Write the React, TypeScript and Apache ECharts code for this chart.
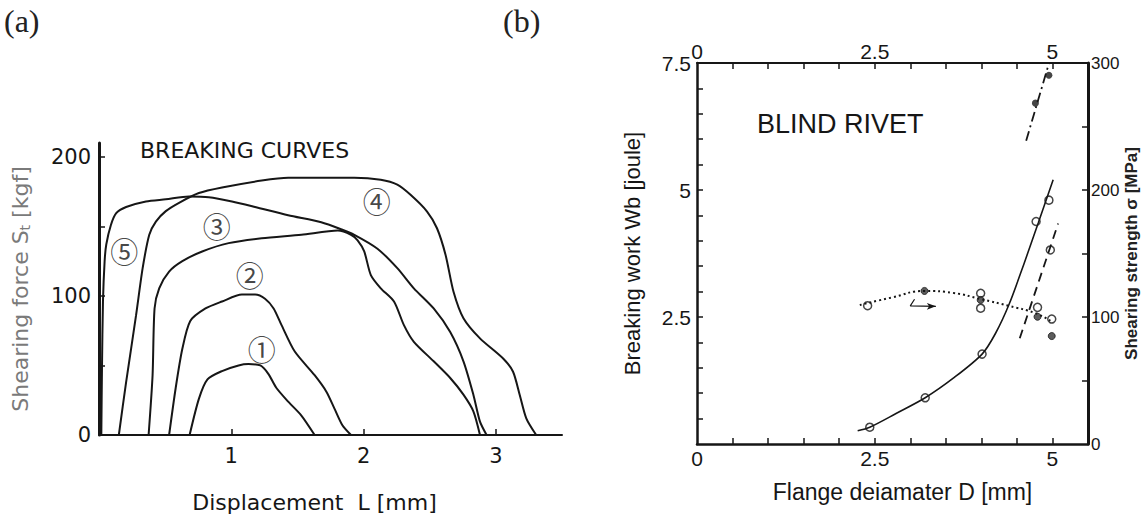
import React, { useEffect, useRef } from "react";
import * as echarts from "echarts";

// ---------- Panel (a): breaking curves (Displacement mm, Shearing force kgf)
const curve1: number[][] = [
  [0.685, 0], [0.755, 26], [0.82, 40], [0.93, 46], [1.055, 50], [1.13, 51], [1.22, 50],
  [1.28, 44], [1.34, 34], [1.43, 24], [1.53, 14], [1.63, 0],
];
const curve2: number[][] = [
  [0.53, 0], [0.58, 34], [0.63, 62], [0.69, 82], [0.805, 91], [0.93, 96], [1.08, 101],
  [1.18, 101], [1.255, 98], [1.32, 91], [1.38, 79], [1.48, 60], [1.63, 43], [1.72, 31],
  [1.78, 19], [1.84, 7], [1.905, 0],
];
const curve3: number[][] = [
  [0.375, 0], [0.405, 43], [0.42, 91], [0.455, 105.5], [0.53, 117.5], [0.63, 125],
  [0.78, 132], [0.98, 138], [1.23, 141.5], [1.53, 144], [1.805, 147], [1.905, 144],
  [1.955, 140], [2.005, 132], [2.055, 115], [2.13, 105.5], [2.23, 96], [2.305, 79],
  [2.38, 67], [2.53, 53], [2.655, 41], [2.755, 29], [2.83, 17], [2.88, 0],
];
const curve4: number[][] = [
  [0.15, 0], [0.205, 38], [0.28, 86], [0.33, 120], [0.38, 144], [0.43, 153.5], [0.505, 161],
  [0.605, 167], [0.755, 174], [0.93, 178], [1.23, 183], [1.43, 185], [1.93, 185],
  [2.13, 183.5], [2.255, 180], [2.355, 172.7], [2.48, 160.7], [2.555, 148.7], [2.62, 129.5],
  [2.68, 103], [2.755, 84], [2.88, 69.5], [3.055, 55], [3.13, 45.5], [3.18, 29], [3.23, 12],
  [3.305, 0],
];
const curve5: number[][] = [
  [0.0175, 0], [0.0225, 48], [0.03, 96], [0.0425, 125], [0.055, 137], [0.09, 151],
  [0.13, 159.5], [0.205, 164], [0.355, 168], [0.505, 169.5], [0.68, 171.5], [0.83, 171],
  [1.005, 168], [1.18, 164], [1.43, 158], [1.68, 153], [1.83, 148], [1.93, 144], [2.105, 134],
  [2.255, 120], [2.38, 105.5], [2.53, 91], [2.655, 74], [2.755, 53], [2.83, 29], [2.88, 9.6],
  [2.93, 0],
];
const curveLabels = ["①", "②", "③", "④", "⑤"];
const curveLabelPositions: number[][] = [
  [1.23, 62], [1.14, 115], [0.89, 150], [2.1, 168], [0.19, 132],
];
const aXTicks = [1, 2, 3];
const aXLabels = [1, 2, 3];
const aYTicks = [50, 100, 150, 200];
const aYLabels = [0, 100, 200];

// ---------- Panel (b): blind rivet (Flange diameter mm)
const workCurve: number[][] = [
  [2.26, 0.26], [2.43, 0.33], [2.8, 0.6], [3.21, 0.91], [3.6, 1.29], [4.01, 1.77],
  [4.2, 2.18], [4.39, 2.75], [4.6, 3.55], [4.8, 4.35], [5.01, 5.2],
];
const workPoints: number[][] = [
  [2.43, 0.33], [3.21, 0.91], [4.01, 1.77], [4.77, 4.38], [4.95, 4.8], [4.97, 3.82],
];
const strengthCurve: number[][] = [
  [2.29, 109.4], [2.75, 115.5], [3.2, 120.5], [3.6, 119], [4.0, 114], [4.39, 108.7],
  [4.76, 103], [4.97, 97],
];
const strengthOpenPoints: number[][] = [
  [2.4, 108.9], [3.99, 118.7], [3.99, 106.9], [4.79, 107.6], [4.99, 98.4],
];
const strengthFilledPoints: number[][] = [
  [3.2, 120.5], [3.99, 113.4], [4.79, 100.2], [4.99, 85],
];
const dashedLine: number[][] = [[4.54, 2.08], [5.08, 4.34]];
const dashDotLine: number[][] = [[4.63, 5.97], [4.95, 7.49]];
const dashDotPoints: number[][] = [[4.76, 6.71], [4.95, 7.26]];
const arrowHook: number[][] = [[3.06, 2.85], [3.0, 2.72], [3.36, 2.71]];
const bXTicks = [0.5, 1, 1.5, 2, 2.5, 3, 3.5, 4, 4.5, 5];
const bXLabels = [0, 2.5, 5];
const bYLeftTicks = [0.5, 1, 1.5, 2, 2.5, 3, 3.5, 4, 4.5, 5, 5.5, 6, 6.5, 7];
const bYLeftLabels = [2.5, 5, 7.5];
const bYRightTicks = [50, 100, 150, 200, 250];
const bYRightLabels = [0, 100, 200, 300];

const INK = "#161616";
const FA = "DejaVu Sans";
const FB = "Liberation Sans";

export default function App() {
  const ref = useRef<HTMLDivElement>(null);
  useEffect(() => {
    if (!ref.current) return;
    const chart = echarts.init(ref.current, undefined, { renderer: "svg" });
    const curves = [curve1, curve2, curve3, curve4, curve5];
    const lineA = (data: number[][]) => ({
      type: "line",
      xAxisIndex: 0,
      yAxisIndex: 0,
      data,
      symbol: "none",
      showSymbol: false,
      smooth: 0.25,
      lineStyle: { color: INK, width: 2 },
      silent: true,
    });
    const open = { color: "#fff", borderColor: INK, borderWidth: 1.5 };
    const option: any = {
      animation: false,
      backgroundColor: "#fff",
      textStyle: { fontFamily: FB, color: INK },
      title: [
        { text: "(a)", left: 4, top: 5, padding: 0, textStyle: { fontFamily: "Liberation Serif", fontSize: 32, fontWeight: "normal", color: "#222" } },
        { text: "(b)", left: 503, top: 5, padding: 0, textStyle: { fontFamily: "Liberation Serif", fontSize: 32, fontWeight: "normal", color: "#222" } },
        { text: "BREAKING CURVES", left: 140, top: 139, padding: 0, textStyle: { fontFamily: FA, fontSize: 22, fontWeight: "normal", color: INK } },
        { text: "BLIND RIVET", left: 757, top: 110, padding: 0, textStyle: { fontFamily: FB, fontSize: 27, fontWeight: "normal", color: INK } },
      ],
      grid: [
        { left: 99, top: 143, width: 463, height: 292, outerBoundsMode: "none", containLabel: false },
        { left: 697, top: 63, width: 391, height: 381, outerBoundsMode: "none", containLabel: false },
      ],
      xAxis: [
        {
          gridIndex: 0, type: "value", min: 0, max: 3.5,
          axisLine: { show: true, onZero: false, lineStyle: { color: INK, width: 2 } },
          axisTick: { show: true, inside: true, length: 6, customValues: aXTicks, lineStyle: { color: INK, width: 1.5 } },
          axisLabel: { customValues: aXLabels, fontFamily: FA, fontSize: 21, margin: 10, color: INK },
          splitLine: { show: false },
          name: "Displacement  L [mm]", nameLocation: "middle", nameGap: 56,
          nameTextStyle: { fontFamily: FA, fontSize: 22, color: INK, padding: [0, 32, 0, 0] },
        },
        {
          gridIndex: 1, type: "value", min: 0, max: 5.5,
          axisLine: { show: true, onZero: false, lineStyle: { color: INK, width: 2.5 } },
          axisTick: { show: true, inside: true, length: 6, customValues: bXTicks, lineStyle: { color: INK, width: 1.5 } },
          axisLabel: { customValues: bXLabels, fontFamily: FB, fontSize: 21, margin: 4, color: INK },
          splitLine: { show: false },
          name: "Flange deiamater D [mm]", nameLocation: "middle", nameGap: 36,
          nameTextStyle: { fontFamily: FB, fontSize: 23, color: INK, padding: [0, 0, 0, 20] },
        },
        {
          gridIndex: 1, type: "value", min: 0, max: 5.5, position: "top",
          axisLine: { show: true, onZero: false, lineStyle: { color: INK, width: 2 } },
          axisTick: { show: true, inside: true, length: 6, customValues: bXTicks, lineStyle: { color: INK, width: 1.5 } },
          axisLabel: { customValues: bXLabels, fontFamily: FB, fontSize: 21, margin: 1, color: INK },
          splitLine: { show: false },
        },
      ],
      yAxis: [
        {
          gridIndex: 0, type: "value", min: 0, max: 210,
          axisLine: { show: true, onZero: false, lineStyle: { color: INK, width: 3 } },
          axisTick: { show: true, inside: true, length: 6, customValues: aYTicks, lineStyle: { color: INK, width: 1.5 } },
          axisLabel: { customValues: aYLabels, fontFamily: FA, fontSize: 21, margin: 8, color: INK },
          splitLine: { show: false },
          name: "Shearing force S{t|t} [kgf]", nameLocation: "middle", nameGap: 67,
          nameTextStyle: {
            fontFamily: FA, fontSize: 22, color: "#7a7a7a",
            rich: { t: { fontFamily: FA, fontSize: 14, color: "#7a7a7a", padding: [9, 0, 0, 0] } },
          },
        },
        {
          gridIndex: 1, type: "value", min: 0, max: 7.5,
          axisLine: { show: true, onZero: false, lineStyle: { color: INK, width: 2.5 } },
          axisTick: { show: true, inside: true, length: 6, customValues: bYLeftTicks, lineStyle: { color: INK, width: 1.5 } },
          axisLabel: { customValues: bYLeftLabels, fontFamily: FB, fontSize: 21, margin: 6, color: INK },
          splitLine: { show: false },
          name: "Breaking work Wb [joule]", nameLocation: "middle", nameGap: 54,
          nameTextStyle: { fontFamily: FB, fontSize: 22, color: INK },
        },
        {
          gridIndex: 1, type: "value", min: 0, max: 300, position: "right",
          axisLine: { show: true, onZero: false, lineStyle: { color: INK, width: 3 } },
          axisTick: { show: true, inside: true, length: 6, customValues: bYRightTicks, lineStyle: { color: INK, width: 1.5 } },
          axisLabel: { customValues: bYRightLabels, fontFamily: FB, fontSize: 17, margin: 3, color: INK },
          splitLine: { show: false },
          name: "Shearing strength σ [MPa]", nameLocation: "middle", nameGap: 32,
          nameTextStyle: { fontFamily: FB, fontSize: 17, fontWeight: "bold", color: "#222" },
        },
      ],
      series: [
        ...curves.map(lineA),
        {
          type: "scatter", xAxisIndex: 0, yAxisIndex: 0, silent: true,
          data: curveLabelPositions.map((p, i) => ({ value: p, name: curveLabels[i] })),
          symbolSize: 1, itemStyle: { color: "rgba(0,0,0,0)" },
          label: { show: true, position: "inside", formatter: "{b}", fontFamily: "Noto Sans CJK JP", fontSize: 28, color: INK },
        },
        {
          type: "line", xAxisIndex: 1, yAxisIndex: 1, data: workCurve, symbol: "none", showSymbol: false,
          smooth: 0.3, lineStyle: { color: INK, width: 1.6 }, silent: true,
        },
        {
          type: "line", xAxisIndex: 1, yAxisIndex: 2, data: strengthCurve, symbol: "none", showSymbol: false,
          smooth: true, lineStyle: { color: INK, width: 2, type: [2, 3] }, silent: true,
        },
        {
          type: "line", xAxisIndex: 1, yAxisIndex: 1, data: dashedLine, symbol: "none", showSymbol: false,
          lineStyle: { color: INK, width: 1.8, type: [9, 6] }, silent: true,
        },
        {
          type: "line", xAxisIndex: 1, yAxisIndex: 1, data: dashDotLine, symbol: "none", showSymbol: false,
          lineStyle: { color: INK, width: 1.8, type: [10, 4, 2, 4] }, silent: true,
        },
        {
          type: "line", xAxisIndex: 1, yAxisIndex: 1, silent: true, symbol: "none", showSymbol: true,
          data: arrowHook.map((p, i) =>
            i === arrowHook.length - 1
              ? { value: p, symbol: "arrow", symbolSize: [5, 9], symbolRotate: -90 }
              : { value: p }
          ),
          lineStyle: { color: INK, width: 1.2 }, itemStyle: { color: INK },
        },
        {
          type: "scatter", xAxisIndex: 1, yAxisIndex: 1, data: workPoints, symbol: "circle", symbolSize: 8,
          itemStyle: open, silent: true,
        },
        {
          type: "scatter", xAxisIndex: 1, yAxisIndex: 2, data: strengthOpenPoints, symbol: "circle", symbolSize: 8,
          itemStyle: open, silent: true,
        },
        {
          type: "scatter", xAxisIndex: 1, yAxisIndex: 2, data: strengthFilledPoints, symbol: "circle", symbolSize: 7,
          itemStyle: { color: "#333", borderColor: INK, borderWidth: 1 }, silent: true,
        },
        {
          type: "scatter", xAxisIndex: 1, yAxisIndex: 1, data: dashDotPoints, symbol: "circle", symbolSize: 7,
          itemStyle: { color: INK }, silent: true,
        },
      ],
    };
    chart.setOption(option);
    return () => chart.dispose();
  }, []);
  return (
    <div
      ref={ref}
      style={{ position: "fixed", left: 0, top: 0, width: 1144, height: 517, background: "#fff" }}
    />
  );
}
